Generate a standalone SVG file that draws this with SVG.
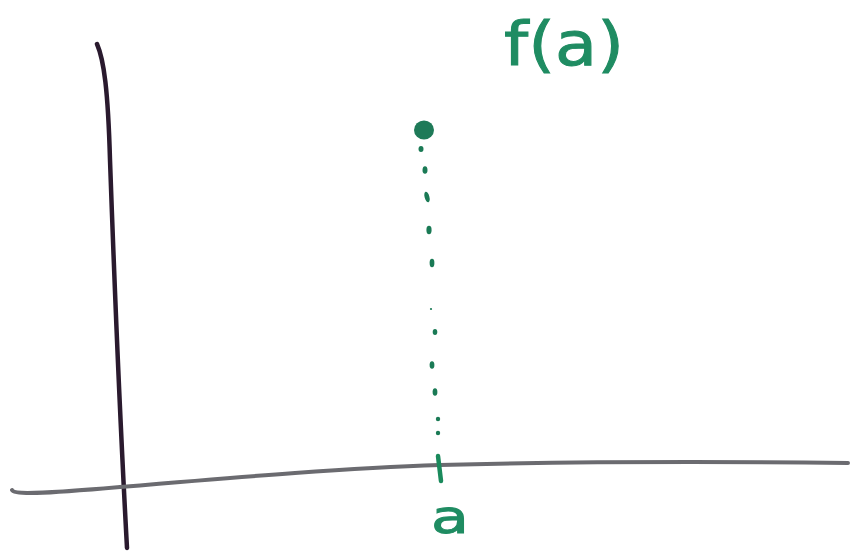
<svg xmlns="http://www.w3.org/2000/svg" width="851" height="552" viewBox="0 0 851 552">
<style>
.axis{fill:none;stroke-linecap:round;}
.dot{fill:#1a7a55;}
.lbl{fill:#1f8c62;stroke:#1f8c62;stroke-width:1;font-family:"DejaVu Sans",sans-serif;}
</style>
<rect width="851" height="552" fill="#ffffff"/>
<g id="axes">
<path class="axis" d="M97,44 C104,60 108,90 110,160 C115,300 120,420 127,548" stroke="#2a1a2e" stroke-width="4.5"/>
<path class="axis" d="M12,490 C14,495 40,494 120,487 C250,476 350,468 440,465 C600,461 760,462 848,463" stroke="#6b6b70" stroke-width="4"/>
</g>
<g id="connectors">
<g class="dot">
<ellipse cx="421" cy="149" rx="2.5" ry="3"/>
<ellipse cx="425" cy="170" rx="2.5" ry="3.8"/>
<ellipse cx="427" cy="197" rx="2.4" ry="5.5" transform="rotate(-15 427 197)"/>
<ellipse cx="429" cy="230" rx="2.6" ry="4.2"/>
<ellipse cx="432" cy="263" rx="2.4" ry="4.2"/>
<circle cx="431" cy="309" r="1.1"/>
<ellipse cx="435" cy="332" rx="2.3" ry="3"/>
<ellipse cx="432" cy="365" rx="2.4" ry="3.8"/>
<ellipse cx="435" cy="392" rx="2.4" ry="3.8"/>
<circle cx="438" cy="419" r="2.2"/>
<circle cx="438" cy="433" r="2.2"/>
</g>
<path d="M438,456 L441,481" stroke="#1a8a5c" stroke-width="4.5" stroke-linecap="round" fill="none"/>
</g>
<g id="point-fa">
<ellipse cx="424" cy="130" rx="10" ry="9.5" fill="#1e7a58"/>
</g>
<g id="label-fa">
<text class="lbl" x="504" y="65" font-size="60" textLength="120" lengthAdjust="spacingAndGlyphs">f(a)</text>
</g>
<g id="label-a">
<text class="lbl" x="431" y="533" font-size="46" textLength="38" lengthAdjust="spacingAndGlyphs">a</text>
</g>
</svg>
